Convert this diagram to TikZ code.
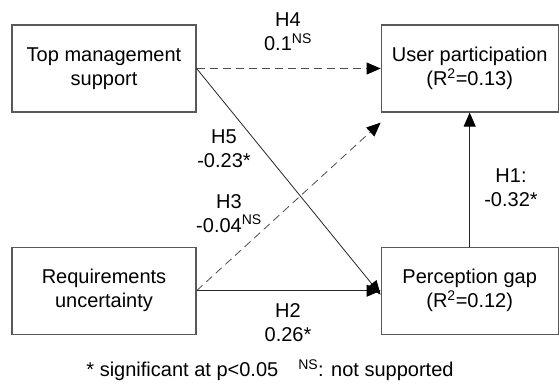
\documentclass[tikz,border=0pt]{standalone}
\usepackage{fontspec}
\setmainfont{Liberation Sans}
\usetikzlibrary{positioning,arrows.meta}

\begin{document}
\begin{tikzpicture}[x=1pt,y=-1pt,%
		   font=\fontsize{20}{24}\selectfont,
		   factor/.style={draw=black!65,line width=1.2pt,align=center,minimum height=87pt,inner sep=0pt},
		   coef/.style={align=center,inner sep=1pt},
		   link/.style={-{Triangle[length=14pt,width=12pt,color=black]},black!85,line width=0.8pt},
		   nslink/.style={link,black!70,dash pattern=on 8pt off 5pt}]

	\useasboundingbox (0,0) rectangle (559,391);

	% constructs
	\node[factor,minimum width=184pt] (tms) at (104,68.5) {Top management\\support};
	\node[factor,minimum width=177pt,right=184pt of tms] (up) {User participation\\(R\textsuperscript{2}=0.13)};
	\node[factor,minimum width=184pt,below=134pt of tms] (ru) {Requirements\\uncertainty};
	\node[factor,minimum width=177pt,right=184pt of ru] (pg) {Perception gap\\(R\textsuperscript{2}=0.12)};

	% paths
	\draw[nslink] (tms.east) -- (up.west);
	\draw[link] (tms.east) -- ([yshift=-4pt]pg.west);
	\draw[nslink] (ru.east) -- ([yshift=-10pt]up.south west);
	\draw[link] (ru.east) -- (pg.west);
	\draw[link] (pg.north) -- (up.south);

	% coefficients
	\node[coef] (h4) at (288,32) {H4\\0.1\textsuperscript{NS}};
	\node[coef] (h5) at (224,148.5) {H5\\-0.23*};
	\node[coef] (h3) at (229,213.5) {H3\\-0.04\textsuperscript{NS}};
	\node[coef] (h2) at (288,323) {H2\\0.26*};
	\node[coef] (h1) at (511,188) {H1:\\-0.32*};

	\node (note) at (270,370) {* significant at p<0.05\quad\textsuperscript{NS}: not supported};
\end{tikzpicture}
\end{document}
